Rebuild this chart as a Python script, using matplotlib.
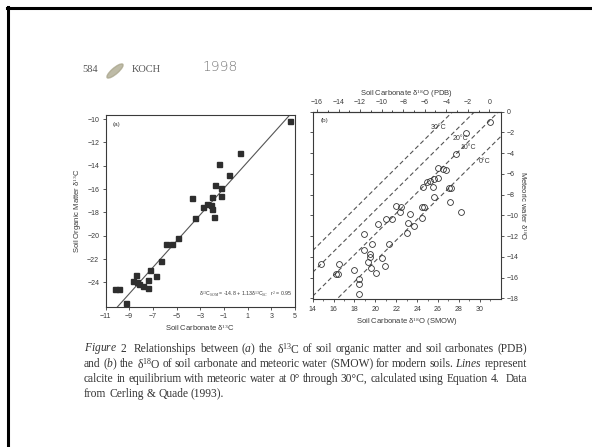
import matplotlib
matplotlib.use("Agg")
import matplotlib.pyplot as plt
from matplotlib.lines import Line2D
from matplotlib.patches import Ellipse
import numpy as np

plt.rcParams['font.family'] = ['Liberation Sans', 'DejaVu Sans']
plt.rcParams['mathtext.fontset'] = 'custom'
plt.rcParams['mathtext.rm'] = 'Liberation Serif'
plt.rcParams['mathtext.it'] = 'Liberation Serif:italic'

# ---------------- data ----------------
# panel (a): soil carbonate d13C vs soil organic matter d13C
a_x = [4.57, 0.32, -1.42, -0.55, -1.76, -1.28, -1.28, -1.98, -3.66, -2.76,
       -2.4, -2.12, -1.98, -1.81, -3.47, -4.92, -5.85, -5.39, -6.33, -7.25,
       -6.75, -8.42, -8.7, -8.37, -8.14, -7.8, -7.44, -7.44, -10.16, -9.82,
       -9.27]
a_y = [-10.15, -12.87, -13.85, -14.8, -15.63, -15.92, -16.55, -16.67, -16.78, -17.5,
       -17.27, -17.33, -17.7, -18.36, -18.47, -20.15, -20.72, -20.72, -22.15, -22.93,
       -23.47, -23.36, -23.9, -24.0, -24.17, -24.3, -24.5, -23.8, -24.6, -24.6,
       -25.75]
reg_intercept = -14.8
reg_slope = 1.13
a_xticks = [-11, -9, -7, -5, -3, -1, 1, 3, 5]
a_yticks = [-24, -22, -20, -18, -16, -14, -12, -10]

# panel (b): soil carbonate d18O (SMOW) vs meteoric water d18O
b_x = [31.02, 28.65, 27.76, 26.0, 26.48, 26.8, 26.0, 25.58, 25.2, 24.94,
       24.56, 25.52, 27.05, 27.28, 25.58, 27.19, 21.94, 22.48, 24.5, 24.69,
       22.39, 28.24, 23.35, 21.04, 21.62, 20.28, 23.15, 23.66, 24.43, 23.06,
       18.87, 19.66, 21.27, 18.93, 19.5, 19.44, 20.62, 19.28, 14.8, 16.56,
       20.95, 19.6, 18.0, 20.02, 16.25, 16.4, 18.48, 18.39, 18.39]
b_y = [-1.03, -2.03, -4.09, -5.47, -5.57, -5.63, -6.38, -6.53, -6.67, -6.82,
       -7.25, -7.31, -7.34, -7.34, -8.21, -8.7, -9.11, -9.24, -9.18, -9.18,
       -9.66, -9.66, -9.91, -10.4, -10.4, -10.85, -10.78, -11.04, -10.3, -11.75,
       -11.82, -12.72, -12.78, -13.3, -13.75, -14.0, -14.1, -14.5, -14.65, -14.65,
       -14.84, -15.07, -15.3, -15.6, -15.68, -15.68, -16.16, -16.58, -17.61]
eq_temps = ["0°C", "10°C", "20°C", "30°C"]
eq_fractionation = [34.4, 31.8, 29.5, 27.4]   # calcite - water offset (per mil)
eq_label_x = [30.5, 28.9, 28.1, 26.0]
eq_label_y = [-4.8, -3.45, -2.55, -1.55]
b_xticks = [14, 16, 18, 20, 22, 24, 26, 28, 30]
b_top_ticks = [-16, -14, -12, -10, -8, -6, -4, -2, 0]
b_yticks = [0, -2, -4, -6, -8, -10, -12, -14, -16, -18]

# caption words (one list per line; mathtext for italics / isotopes)
cap_line1 = [r"$\mathit{Figure}$", r"$\mathit{2}$", "", "Relationships", "between", r"($\mathit{a}$)", "the",
             r"δ$^{13}$C", "of", "soil", "organic", "matter", "and", "soil", "carbonates", "(PDB)"]
cap_line2 = ["and", r"($\mathit{b}$)", "the", r"δ$^{18}$O", "of", "soil", "carbonate", "and", "meteoric",
             "water", "(SMOW)", "for", "modern", "soils.", r"$\mathit{Lines}$", "represent"]
cap_line3 = ["calcite", "in", "equilibrium", "with", "meteoric", "water", "at", "0°", "through", "30°C,",
             "calculated", "using", "Equation", "4.", "", "Data"]
cap_line4 = ["from", "Cerling", "&", "Quade", "(1993)."]

ink = '#3a3a3a'
W, H = 592, 447
fig = plt.figure(figsize=(W / 100, H / 100), dpi=100)
fig.patch.set_facecolor('white')

def fx(px):
    return px / W

def fy(py):
    return 1 - py / H

# page frame (top and left edges only)
fig.add_artist(Line2D([fx(7), 1.0], [fy(7.5), fy(7.5)], color='black', lw=2.2))
fig.add_artist(Line2D([fx(7.5), fx(7.5)], [fy(7), 0.0], color='black', lw=2.2))

# header
fig.text(fx(82), fy(70), "584", fontsize=7.5, family='Liberation Serif', color='#555555', va='center')
fig.add_artist(Ellipse((fx(115), fy(71)), 0.012, 0.04, angle=-40, color='#a8a48a', alpha=0.75))
fig.text(fx(132), fy(70), "KOCH", fontsize=7.5, family='Liberation Serif', color='#555555', va='center')
fig.text(fx(203), fy(67), "1998", fontsize=10, family='DejaVu Sans', color='#777777',
         va='center', fontweight='light')

def style_axes(ax):
    for s in ax.spines.values():
        s.set_color(ink)
        s.set_linewidth(0.8)
    ax.tick_params(colors=ink, labelcolor=ink, labelsize=5, width=0.6, length=2.5, pad=2)

# ---------------- panel (a) ----------------
axa = fig.add_axes([fx(105.5), fy(307), (295 - 105.5) / W, (307 - 115) / H])
style_axes(axa)
axa.set_xlim(-11, 5)
axa.set_ylim(-26.1, -9.65)
xx = np.array(axa.get_xlim())
axa.plot(xx, reg_intercept + reg_slope * xx, color='#555555', lw=0.8)
axa.plot(a_x, a_y, linestyle='none', marker='s', ms=3.6, color='#2e2e2e', mec='#2e2e2e')
axa.set_xticks(a_xticks)
axa.set_yticks(a_yticks)
axa.set_xlabel("Soil Carbonate δ$^{13}$C", fontsize=5.5, color=ink, labelpad=1.5)
axa.set_ylabel("Soil Organic Matter δ$^{13}$C", fontsize=5.5, color=ink, labelpad=2)
axa.text(0.04, 0.965, "(a)", transform=axa.transAxes, fontsize=4.5, color=ink, va='top')
axa.text(0.985, 0.04, "δ$^{13}$C$_{SOM}$ = -14.8 + 1.13δ$^{13}$C$_{SC}$   r$^2$ = 0.95",
         transform=axa.transAxes, fontsize=3.8, color=ink, ha='right', va='bottom')

# ---------------- panel (b) ----------------
axb = fig.add_axes([fx(312.7), fy(299.3), (500.7 - 312.7) / W, (299.3 - 111.7) / H])
style_axes(axb)
axb.set_xlim(14, 32)
axb.set_ylim(-18.1, 0)
xs = np.array(axb.get_xlim())
for frac in eq_fractionation:
    axb.plot(xs, xs - frac, color='#555555', lw=0.8, dashes=(4, 2.5))
for lab, lx, ly in zip(eq_temps, eq_label_x, eq_label_y):
    axb.text(lx, ly, lab, fontsize=5, color=ink, ha='center', va='center')
axb.plot(b_x, b_y, linestyle='none', marker='o', ms=4.2, mfc='none', mec='#333333', mew=0.6)
axb.set_xticks(b_xticks)
axb.set_yticks(b_yticks)
axb.set_xticks(np.arange(15, 32, 2), minor=True)
axb.tick_params(axis='y', left=True, labelleft=False, right=True, labelright=True)
axb.tick_params(which='minor', length=1.5, width=0.5, colors=ink)
axb.yaxis.set_label_position('right')
axb.set_ylabel("Meteoric water δ$^{18}$O", fontsize=5.5, color=ink, rotation=270, labelpad=7)
axb.set_xlabel("Soil Carbonate δ$^{18}$O (SMOW)", fontsize=5.5, color=ink, labelpad=1.5)
axb.text(0.04, 0.965, "(b)", transform=axb.transAxes, fontsize=4.5, color=ink, va='top')

def smow2pdb(x):
    return (np.asarray(x) - 30.91) / 1.03091

def pdb2smow(x):
    return np.asarray(x) * 1.03091 + 30.91

sec = axb.secondary_xaxis('top', functions=(smow2pdb, pdb2smow))
sec.set_xticks(b_top_ticks)
sec.set_xticks(np.arange(-15, 1, 2), minor=True)
sec.spines['top'].set_color(ink)
sec.tick_params(colors=ink, labelcolor=ink, labelsize=5, width=0.6, length=2.5, pad=1.5)
sec.tick_params(which='minor', length=1.5, width=0.5)
sec.set_xlabel("Soil Carbonate δ$^{18}$O (PDB)", fontsize=5.5, color=ink, labelpad=2)

# ---------------- caption (justified) ----------------
cap_kw = dict(fontsize=8.3, family='Liberation Serif', color='#333333', va='center', ha='left')
cap_lines = [cap_line1, cap_line2, cap_line3, cap_line4]
cap_justify = [True, True, True, False]
cap_y = [349, 364, 379, 394]
cap_left, cap_right = 84, 527

fig.canvas.draw()
renderer = fig.canvas.get_renderer()
for words, yy, just in zip(cap_lines, cap_y, cap_justify):
    arts = [fig.text(0, fy(yy), w, **cap_kw) for w in words]
    widths = [a.get_window_extent(renderer).width if w else 0.0 for a, w in zip(arts, words)]
    if just:
        gap = (cap_right - cap_left - sum(widths)) / (len(words) - 1)
    else:
        gap = 2.8
    xpos = cap_left
    for a, w in zip(arts, widths):
        a.set_x(fx(xpos))
        xpos += w + gap

fig.savefig("out.png", dpi=100, facecolor='white')
